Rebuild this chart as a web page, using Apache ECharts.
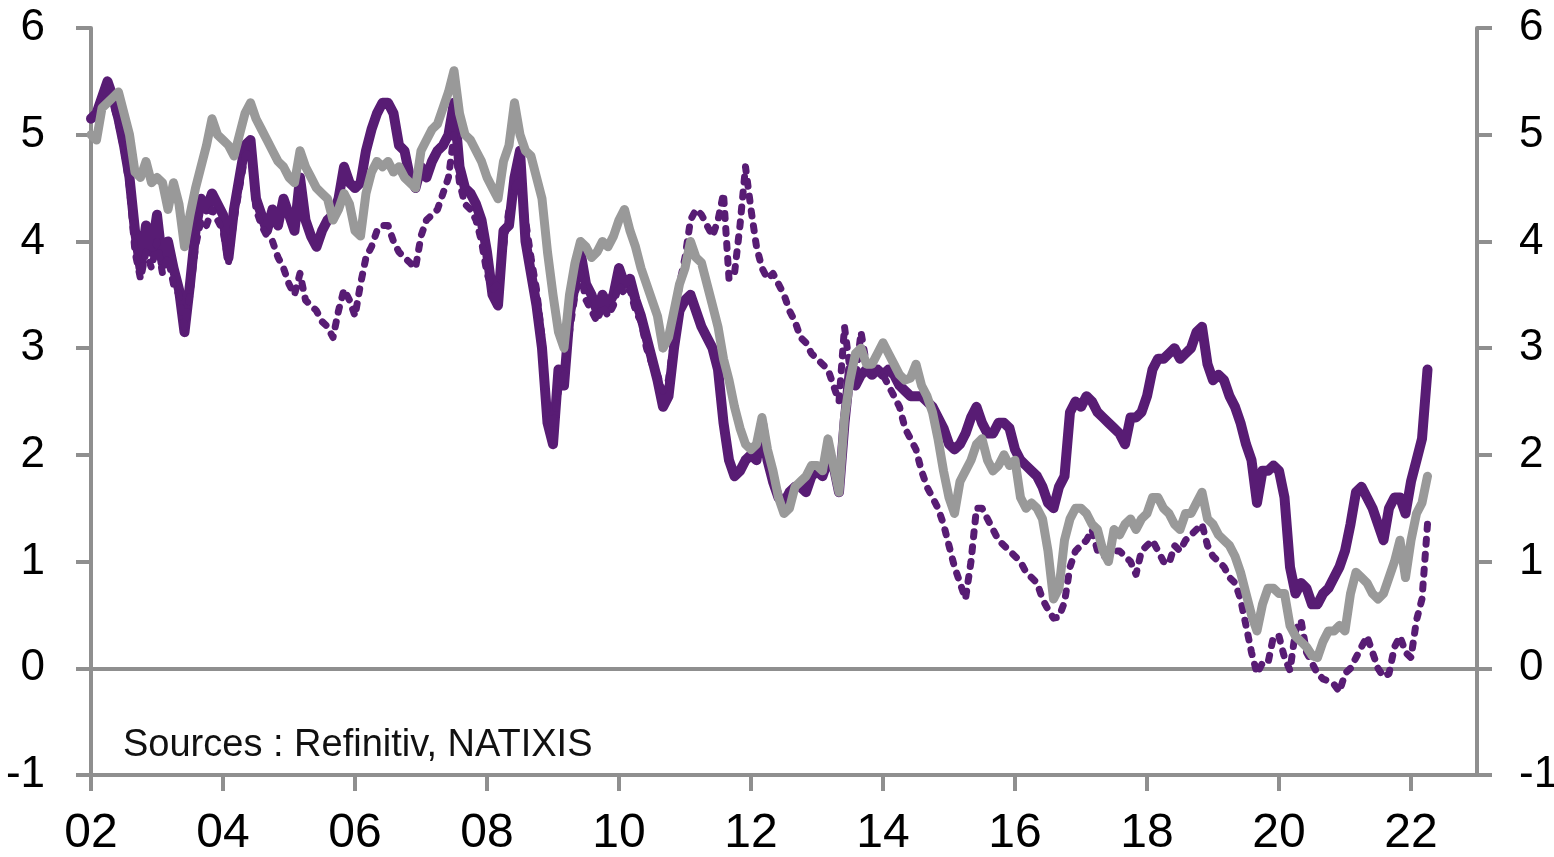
<!DOCTYPE html>
<html>
<head>
<meta charset="utf-8">
<script src="https://cdn.jsdelivr.net/npm/echarts@6/dist/echarts.min.js"></script>
<style>
html,body{margin:0;padding:0;background:#fff;overflow:hidden;}
#chart{width:1554px;height:857px;}
</style>
</head>
<body>
<div id="chart"></div>
<script>
// Monthly observations, Jan 2002 .. Apr 2022
const startYear = 2002;

// Solid purple series (%)
const purpleSolid = [
  5.15,5.2,5.35,5.5,5.35,5.15,4.9,4.6,4.1,3.75,4.15,3.9,      // 2002
  4.25,3.8,4.0,3.75,3.55,3.15,3.6,4.1,4.4,4.3,4.45,4.35,      // 2003
  4.25,3.85,4.3,4.6,4.9,4.95,4.4,4.25,4.1,4.3,4.15,4.4,       // 2004
  4.25,4.1,4.6,4.2,4.05,3.95,4.1,4.2,4.25,4.4,4.7,4.55,       // 2005
  4.5,4.55,4.85,5.05,5.2,5.3,5.3,5.2,4.9,4.85,4.6,4.5,        // 2006
  4.7,4.6,4.75,4.85,4.9,5.0,5.3,4.7,4.5,4.45,4.35,4.2,        // 2007
  3.9,3.5,3.4,4.1,4.15,4.6,4.85,4.0,3.7,3.4,3.0,2.3,          // 2008
  2.1,2.8,2.65,3.3,3.6,3.9,3.6,3.5,3.35,3.5,3.4,3.5,          // 2009
  3.75,3.6,3.65,3.45,3.3,3.1,2.9,2.7,2.45,2.55,3.0,3.35,      // 2010
  3.45,3.5,3.35,3.2,3.1,3.0,2.8,2.3,1.95,1.8,1.85,1.95,       // 2011
  2.0,1.95,2.3,1.95,1.75,1.6,1.55,1.65,1.7,1.7,1.65,1.8,      // 2012
  1.85,1.8,1.95,1.9,1.65,2.3,2.8,2.65,2.75,2.8,2.75,2.8,      // 2013
  2.75,2.8,2.75,2.65,2.6,2.55,2.55,2.55,2.5,2.45,2.35,2.25,   // 2014
  2.1,2.05,2.1,2.2,2.35,2.45,2.3,2.2,2.2,2.3,2.3,2.25,        // 2015
  2.05,1.95,1.9,1.85,1.8,1.7,1.55,1.5,1.7,1.8,2.4,2.5,        // 2016
  2.45,2.55,2.5,2.4,2.35,2.3,2.25,2.2,2.1,2.35,2.35,2.4,      // 2017
  2.55,2.8,2.9,2.9,2.95,3.0,2.9,2.95,3.0,3.15,3.2,2.85,       // 2018
  2.7,2.75,2.7,2.55,2.45,2.3,2.1,1.95,1.55,1.85,1.85,1.9,     // 2019
  1.85,1.6,0.95,0.7,0.8,0.75,0.6,0.6,0.7,0.75,0.85,0.95,      // 2020
  1.1,1.35,1.65,1.7,1.6,1.5,1.35,1.2,1.5,1.6,1.6,1.45,        // 2021
  1.75,1.95,2.15,2.8                                          // 2022
];

// Grey series (%)
const greySolid = [
  5.0,4.95,5.25,5.3,5.35,5.4,5.2,5.0,4.65,4.6,4.75,4.55,      // 2002
  4.6,4.55,4.3,4.55,4.35,3.95,4.25,4.5,4.7,4.9,5.15,5.0,      // 2003
  4.95,4.9,4.8,5.0,5.2,5.3,5.15,5.05,4.95,4.85,4.75,4.7,      // 2004
  4.6,4.55,4.85,4.7,4.6,4.5,4.45,4.4,4.2,4.3,4.45,4.35,       // 2005
  4.1,4.05,4.45,4.65,4.75,4.7,4.75,4.65,4.7,4.6,4.55,4.5,     // 2006
  4.85,4.95,5.05,5.1,5.25,5.4,5.6,5.2,5.0,4.95,4.85,4.75,     // 2007
  4.6,4.5,4.4,4.75,4.9,5.3,5.0,4.85,4.8,4.6,4.4,3.9,          // 2008
  3.5,3.15,3.0,3.5,3.8,4.0,3.95,3.85,3.9,4.0,3.95,4.05,       // 2009
  4.2,4.3,4.1,3.95,3.75,3.6,3.45,3.3,3.0,3.1,3.35,3.6,        // 2010
  3.75,4.0,3.85,3.8,3.6,3.4,3.2,2.9,2.7,2.45,2.25,2.1,        // 2011
  2.05,2.1,2.35,2.05,1.85,1.6,1.45,1.5,1.7,1.75,1.8,1.9,      // 2012
  1.9,1.85,2.15,1.9,1.65,2.35,2.7,2.95,3.0,2.85,2.85,2.95,    // 2013
  3.05,2.95,2.85,2.75,2.7,2.72,2.85,2.65,2.55,2.4,2.15,1.85,  // 2014
  1.6,1.45,1.75,1.85,1.95,2.1,2.15,1.95,1.85,1.9,2.0,1.9,     // 2015
  1.95,1.6,1.5,1.55,1.5,1.4,1.1,0.65,0.75,1.2,1.4,1.5,        // 2016
  1.5,1.45,1.35,1.3,1.1,1.0,1.3,1.25,1.35,1.4,1.3,1.4,        // 2017
  1.45,1.6,1.6,1.5,1.45,1.35,1.3,1.45,1.45,1.55,1.65,1.4,     // 2018
  1.35,1.25,1.2,1.15,1.05,0.9,0.7,0.5,0.35,0.6,0.75,0.75,     // 2019
  0.7,0.7,0.4,0.3,0.25,0.2,0.12,0.1,0.25,0.35,0.35,0.4,       // 2020
  0.35,0.7,0.9,0.85,0.8,0.7,0.65,0.7,0.85,1.0,1.2,0.85,       // 2021
  1.2,1.45,1.55,1.8                                           // 2022
];

// Dashed purple series (%)
const purpleDashed = [
  5.15,5.2,5.35,5.45,5.3,5.1,4.85,4.5,3.9,3.65,3.9,3.75,      // 2002
  4.0,3.7,3.85,3.6,3.5,3.2,3.5,3.95,4.2,4.15,4.3,4.2,         // 2003
  4.1,3.8,4.2,4.5,4.8,4.85,4.3,4.15,4.05,4.0,3.85,3.75,       // 2004
  3.6,3.5,3.7,3.45,3.4,3.35,3.25,3.2,3.1,3.35,3.55,3.45,      // 2005
  3.3,3.6,3.85,3.95,4.1,4.15,4.15,4.0,3.9,3.85,3.8,3.75,      // 2006
  4.05,4.2,4.25,4.3,4.45,4.6,5.0,4.55,4.35,4.3,4.2,4.0,       // 2007
  3.7,3.55,3.6,3.95,4.3,4.5,4.6,4.2,3.85,3.55,3.1,2.4,        // 2008
  2.25,2.6,2.75,3.15,3.5,3.7,3.45,3.35,3.25,3.4,3.3,3.4,      // 2009
  3.6,3.5,3.55,3.35,3.25,3.0,2.85,2.75,2.6,2.7,3.1,3.6,       // 2010
  3.85,4.2,4.3,4.25,4.15,4.05,4.2,4.45,3.65,3.7,4.15,4.7,     // 2011
  4.3,3.95,3.75,3.65,3.7,3.6,3.5,3.35,3.25,3.1,3.05,2.95,     // 2012
  2.9,2.85,2.8,2.65,2.5,3.2,2.8,2.7,3.15,2.85,2.75,2.8,       // 2013
  2.75,2.65,2.55,2.45,2.25,2.15,2.05,1.85,1.7,1.6,1.5,1.35,   // 2014
  1.15,0.95,0.8,0.65,1.0,1.5,1.5,1.4,1.3,1.2,1.15,1.1,        // 2015
  1.05,1.0,0.9,0.85,0.8,0.65,0.55,0.47,0.48,0.62,0.95,1.1,    // 2016
  1.15,1.2,1.3,1.1,1.05,1.05,1.1,1.1,1.05,1.0,0.88,1.1,       // 2017
  1.15,1.2,1.1,1.0,0.98,1.15,1.1,1.2,1.25,1.3,1.35,1.15,      // 2018
  1.05,1.0,0.95,0.85,0.8,0.65,0.4,0.15,-0.05,0.05,0.05,0.3,   // 2019
  0.3,0.1,-0.02,0.35,0.45,0.15,0.05,-0.05,-0.1,-0.12,-0.15,-0.22, // 2020
  -0.05,0.0,0.1,0.2,0.3,0.15,0.0,-0.08,-0.05,0.2,0.3,0.15,    // 2021
  0.1,0.45,0.65,1.35                                          // 2022
];

const xTickValues = [2002,2004,2006,2008,2010,2012,2014,2016,2018,2020,2022];
const sourceText = 'Sources : Refinitiv, NATIXIS';

function toPairs(vals) {
  return vals.map((v, i) => [startYear + i / 12, v]);
}

const PURPLE = '#581c74';
const GREY = '#999999';
const AXIS = '#8f8f8f';
const FONT = '"Liberation Sans", Arial, sans-serif';

const chart = echarts.init(document.getElementById('chart'), null, {renderer: 'canvas'});

const yAxisCommon = {
  type: 'value', min: -1, max: 6, interval: 1,
  axisLine: {show: true, lineStyle: {color: AXIS, width: 4}},
  axisTick: {show: true, length: 15, inside: false, lineStyle: {color: AXIS, width: 4}},
  splitLine: {show: false},
  axisLabel: {fontSize: 44, color: '#000', fontFamily: FONT}
};

chart.setOption({
  animation: false,
  backgroundColor: '#ffffff',
  grid: {left: 91, right: 77, top: 28, bottom: 82, containLabel: false, outerBoundsMode: 'none'},
  xAxis: {
    type: 'value', min: 2002, max: 2023,
    axisLine: {show: true, onZero: false, lineStyle: {color: AXIS, width: 4}},
    axisTick: {show: true, length: 16, customValues: xTickValues, lineStyle: {color: AXIS, width: 4}},
    splitLine: {show: false},
    axisLabel: {
      customValues: xTickValues,
      fontSize: 48, color: '#000', fontFamily: FONT, margin: 35,
      formatter: v => String(Math.round(v)).slice(2)
    }
  },
  yAxis: [
    Object.assign({}, yAxisCommon, {position: 'left', axisLabel: Object.assign({}, yAxisCommon.axisLabel, {margin: 46})}),
    Object.assign({}, yAxisCommon, {position: 'right', axisLabel: Object.assign({}, yAxisCommon.axisLabel, {margin: 42})})
  ],
  graphic: [{
    type: 'text', left: 123, top: 727, silent: true,
    style: {text: sourceText, fontSize: 38, fill: '#111', fontFamily: FONT}
  }],
  series: [
    {
      name: 'purple', type: 'line', data: toPairs(purpleSolid), showSymbol: false, symbol: 'none',
      lineStyle: {color: PURPLE, width: 10, cap: 'round', join: 'round'}, z: 2,
      markLine: {
        silent: true, symbol: ['none', 'none'], label: {show: false},
        lineStyle: {color: AXIS, width: 4, type: 'solid'},
        data: [{yAxis: 0}], z: 1
      }
    },
    {
      name: 'dashed', type: 'line', data: toPairs(purpleDashed), showSymbol: false, symbol: 'none',
      lineStyle: {color: PURPLE, width: 7, type: [5, 10], cap: 'round', join: 'round'}, z: 3
    },
    {
      name: 'grey', type: 'line', data: toPairs(greySolid), showSymbol: false, symbol: 'none',
      lineStyle: {color: GREY, width: 9, cap: 'round', join: 'round'}, z: 4
    }
  ]
});
</script>
</body>
</html>
